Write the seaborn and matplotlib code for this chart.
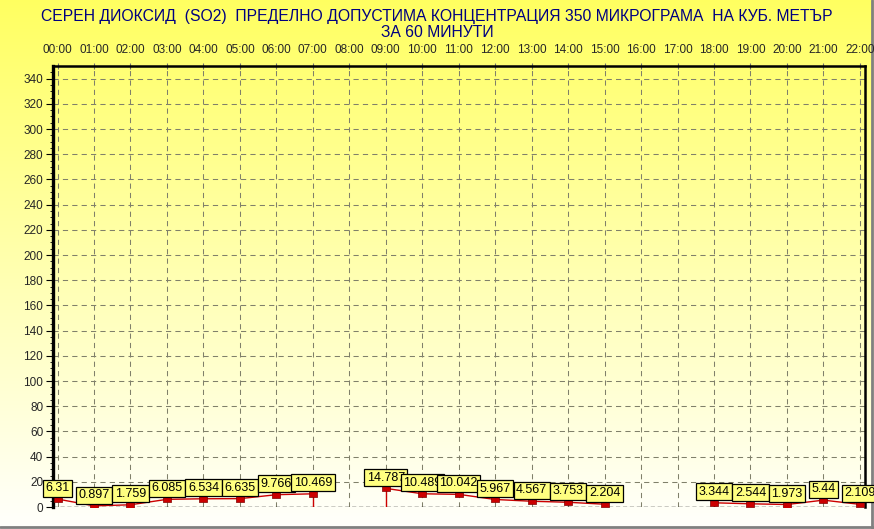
import numpy as np
import pandas as pd
import matplotlib
matplotlib.use("Agg")
import matplotlib.pyplot as plt
import seaborn as sns

hours = ["00:00", "01:00", "02:00", "03:00", "04:00", "05:00", "06:00", "07:00",
         "08:00", "09:00", "10:00", "11:00", "12:00", "13:00", "14:00", "15:00",
         "16:00", "17:00", "18:00", "19:00", "20:00", "21:00", "22:00"]
so2 = [6.31, 0.897, 1.759, 6.085, 6.534, 6.635, 9.766, 10.469,
       np.nan, 14.787, 10.489, 10.042, 5.967, 4.567, 3.753, 2.204,
       np.nan, np.nan, 3.344, 2.544, 1.973, 5.44, 2.109]
y_ticks = list(range(0, 341, 20))
title_line1 = "СЕРЕН ДИОКСИД  (SO2)  ПРЕДЕЛНО ДОПУСТИМА КОНЦЕНТРАЦИЯ 350 МИКРОГРАМА  НА КУБ. МЕТЪР"
title_line2 = "ЗА 60 МИНУТИ"

sns.set_theme(style="white")
plt.rcParams["font.family"] = ["Liberation Sans", "DejaVu Sans"]

df = pd.DataFrame({"pos": np.arange(len(hours)), "hour": hours, "value": so2})
df["seg"] = df["value"].isna().cumsum()
valid = df.dropna(subset=["value"]).copy()

W, H = 874, 529
fig = plt.figure(figsize=(W / 100, H / 100), dpi=100)

# background gradient
bg = fig.add_axes([0, 0, 1, 1], zorder=-10)
grad = np.linspace(0, 1, 256).reshape(-1, 1)
top = np.array([1.0, 1.0, 0.38])
bot = np.array([1.0, 1.0, 0.99])
img = top[None, None, :] * (1 - grad[:, :, None]) + bot[None, None, :] * grad[:, :, None]
bg.imshow(img, aspect="auto", extent=[0, 1, 0, 1], origin="upper")
bg.set_axis_off()
bg.plot([0, 1], [0.003, 0.003], color="#808080", lw=2, transform=bg.transAxes)
bg.plot([0.9975, 0.9975], [0, 1], color="#808080", lw=2, transform=bg.transAxes)
bg.set_xlim(0, 1); bg.set_ylim(0, 1)

ax = fig.add_axes([53 / W, 1 - 507 / H, (865 - 53) / W, (507 - 66) / H])
ax.set_facecolor("none")

sns.lineplot(data=valid, x="pos", y="value", units="seg", estimator=None,
             color="#cc0000", lw=1, ax=ax, legend=False, zorder=3)

vals = df["value"].to_numpy()
prev_nan = np.r_[False, np.isnan(vals[:-1])]
next_nan = np.r_[np.isnan(vals[1:]), False]
stick = (~np.isnan(vals)) & (prev_nan | next_nan)
ax.vlines(df["pos"][stick], 0, df["value"][stick], color="#cc0000", lw=1, zorder=3)

rect = [(-1, -0.6), (1, -0.6), (1, 0.6), (-1, 0.6), (-1, -0.6)]
sns.scatterplot(data=valid, x="pos", y="value", marker=rect, s=40,
                color="#cc0000", edgecolor="#800000", linewidth=0.5,
                ax=ax, legend=False, zorder=4)

for i, r in valid.iterrows():
    v = r["value"]
    ax.annotate(f"{v:g}", (r["pos"], v), xytext=(0, 3.5), textcoords="offset points",
                ha="center", va="bottom", fontsize=9, color="black", zorder=5 + i,
                bbox=dict(boxstyle="square,pad=0.2", fc="#ffff80", ec="black", lw=0.9))

ax.set_xlim(-0.125, 22.14)
ax.set_ylim(0, 350)
ax.set_xticks(df["pos"])
ax.set_xticklabels(hours)
ax.set_yticks(y_ticks)
ax.set_yticks(np.arange(0, 350, 5), minor=True)
ax.xaxis.tick_top()
ax.tick_params(axis="x", which="major", top=True, bottom=False, labeltop=True,
               labelbottom=False, direction="inout", length=4, width=0.8,
               color="#707070", labelsize=8.5, pad=5)
ax.tick_params(axis="y", which="major", left=True, direction="out", length=5,
               width=0.8, color="black", labelsize=8.5, pad=2)
ax.tick_params(axis="y", which="minor", left=True, direction="out", length=2,
               width=0.6, color="black")
ax.set_xlabel("")
ax.set_ylabel("")

ax.grid(True, which="major", color="#80806a", linestyle=(0, (5, 4)), lw=0.75)
ax.set_axisbelow(True)
ax.axhline(0, color="black", linestyle=(0, (3, 2)), lw=1, zorder=2)

for side in ["left", "top", "right"]:
    ax.spines[side].set_visible(True)
    ax.spines[side].set_color("black")
ax.spines["left"].set_linewidth(2.4)
ax.spines["top"].set_linewidth(1.8)
ax.spines["right"].set_linewidth(1.8)
ax.spines["bottom"].set_visible(False)

fig.text(437 / W, 1 - 16 / H, title_line1, ha="center", va="center",
         fontsize=11.3, color="#000080")
fig.text(437 / W, 1 - 32.5 / H, title_line2, ha="center", va="center",
         fontsize=11.3, color="#000080")

fig.savefig("out.png", dpi=100)
